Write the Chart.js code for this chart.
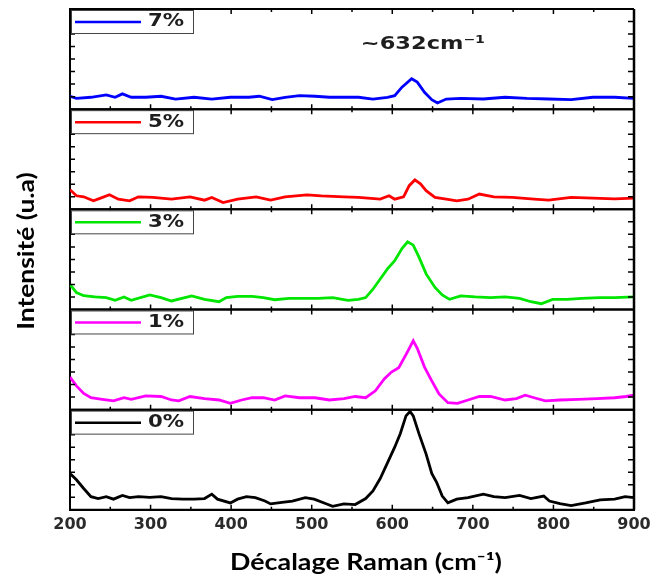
<!DOCTYPE html>
<html><head><meta charset="utf-8">
<script src="https://cdn.jsdelivr.net/npm/chart.js@4/dist/chart.umd.min.js"></script>
<style>html,body{margin:0;padding:0;background:#fff}#wrap{width:656px;height:577px}</style>
</head><body><div id="wrap"><canvas id="c" width="656" height="577"></canvas></div>
<script>
// ---- data (Raman shift in cm-1, intensity in arbitrary panel units 0..8) ----
const seriesLabels = ['0%', '1%', '3%', '5%', '7%'];
const seriesColors = ['#000000', '#ff00ff', '#00e600', '#ff0000', '#0000ff'];
const xTickValues = [200, 300, 400, 500, 600, 700, 800, 900];
const xMinorValues = [250, 350, 450, 550, 650, 750, 850];
const yTickValues = [1, 2, 3, 4, 5, 6, 7];
const annotationText = '~632cm⁻¹';
const xTitle = 'Décalage Raman (cm⁻¹)';
const yTitle = 'Intensité (u.a)';

const x0 = [200,208,217,226,235,245,254,265,274,285,299,313,326,340,354,367,376,383,399,408,419,430,442,449,463,476,492,503,517,526,540,554,567,576,585,594,603,610,617,622,626,633,642,649,655,662,669,680,694,713,726,740,758,772,788,795,808,822,840,858,876,889,900];
const y0 = [2.9,2.4,1.7,1.05,0.9,1.05,0.85,1.15,0.97,1.05,1.0,1.05,0.9,0.85,0.85,0.9,1.25,0.85,0.55,0.85,1.05,0.97,0.7,0.47,0.6,0.7,0.97,0.85,0.5,0.28,0.47,0.42,0.9,1.5,2.5,3.75,5.0,6.1,7.5,7.85,7.5,6.1,4.45,2.9,2.2,1.1,0.55,0.85,0.97,1.25,1.05,0.97,1.15,0.9,1.1,0.7,0.5,0.33,0.55,0.8,0.85,1.05,0.97];

const x1 = [200,208,217,226,240,254,267,276,294,313,326,335,349,367,385,399,413,426,440,454,467,485,504,522,540,554,567,579,590,599,608,617,626,631,640,649,658,669,681,694,708,722,740,754,765,776,790,808,831,854,876,890,900];
const y1 = [2.6,1.9,1.3,0.95,0.82,0.7,0.95,0.82,1.1,1.05,0.77,0.7,1.05,0.88,0.77,0.5,0.77,0.95,0.95,0.77,1.1,0.95,0.95,0.77,0.88,1.05,0.95,1.5,2.45,3.0,3.35,4.4,5.5,4.9,3.4,2.3,1.25,0.55,0.5,0.77,1.05,1.05,0.77,0.88,1.15,0.95,0.7,0.77,0.82,0.88,0.95,1.05,1.15];

const x3 = [200,208,217,231,245,256,267,276,299,313,326,351,367,385,394,408,426,440,454,472,490,508,526,545,558,567,576,585,594,603,612,619,626,633,642,653,662,671,685,703,722,740,758,772,785,799,817,835,858,876,900];
const y3 = [2.0,1.35,1.1,1.0,0.95,0.73,1.0,0.73,1.16,0.95,0.68,1.08,0.81,0.62,0.95,1.05,1.05,0.95,0.78,0.89,0.89,0.89,0.95,0.73,0.81,0.95,1.62,2.43,3.24,3.9,4.86,5.4,5.14,4.2,2.84,1.76,1.16,0.81,1.08,1.0,0.95,1.0,0.89,0.62,0.46,0.81,0.81,0.89,0.95,0.95,1.0];

const x5 = [200,208,217,229,238,249,260,274,285,303,326,349,367,376,390,408,431,449,467,494,512,540,558,585,596,603,614,621,628,635,642,653,667,680,694,708,726,749,776,794,822,849,876,900];
const y5 = [1.57,1.08,1.0,0.68,0.89,1.16,0.81,0.68,1.0,0.95,0.81,1.0,0.73,0.95,0.54,0.81,1.0,0.73,1.0,1.16,1.08,1.0,0.95,0.81,1.08,0.81,1.0,1.89,2.35,2.03,1.49,0.95,0.81,0.68,0.81,1.22,1.0,0.95,0.81,0.73,0.95,0.89,0.84,0.89];

const x7 = [200,208,226,245,256,265,276,294,313,331,354,376,399,422,435,451,467,485,504,522,540,558,576,594,603,612,624,631,640,649,656,667,685,713,740,767,794,822,849,876,900];
const y7 = [1.03,0.86,0.95,1.14,0.95,1.22,0.95,0.95,1.03,0.81,0.95,0.81,0.95,0.95,1.03,0.76,0.95,1.08,1.03,0.95,0.95,0.95,0.81,0.95,1.08,1.76,2.43,2.16,1.35,0.76,0.49,0.81,0.86,0.81,0.95,0.86,0.81,0.76,0.95,0.95,0.86];

const seriesX = [x0, x1, x3, x5, x7];
const seriesY = [y0, y1, y3, y5, y7];

// ---- chart ----
const datasets = seriesX.map((xs, i) => ({
  label: seriesLabels[i],
  data: xs.map((x, j) => ({x: x, y: seriesY[i][j]})),
  yAxisID: 'y' + i,
  borderColor: seriesColors[i],
  borderWidth: 2.8,
  pointRadius: 0,
  tension: 0,
  fill: false
}));

const scales = {
  x: {
    type: 'linear', min: 200, max: 900,
    afterBuildTicks: (s) => { s.ticks = xTickValues.map(v => ({value: v})); },
    ticks: {font: {family: 'DejaVu Sans', weight: 'bold', size: 16}, color: '#2a2a2a', padding: 5},
    grid: {display: false, drawTicks: false},
    border: {display: true, color: '#000', width: 2}
  }
};
for (let i = 0; i < 5; i++) {
  scales['y' + i] = {
    type: 'linear', position: 'left', stack: 'panels', stackWeight: 1,
    min: 0, max: 8,
    ticks: {display: false},
    grid: {display: false, drawTicks: false},
    border: {display: true, color: '#000', width: 2}
  };
}

const panelPlugin = {
  id: 'panelPlugin',
  afterDatasetsDraw(chart) {
    const ctx = chart.ctx;
    const xs = chart.scales.x;
    const L = chart.chartArea.left, R = chart.chartArea.right;
    ctx.save();
    ctx.strokeStyle = '#000';
    let topMost = Infinity;
    for (let i = 0; i < 5; i++) {
      const ys = chart.scales['y' + i];
      topMost = Math.min(topMost, ys.top);
      ctx.lineWidth = 1.5;
      ctx.beginPath();
      yTickValues.forEach(v => {
        const py = ys.getPixelForValue(v);
        ctx.moveTo(L, py); ctx.lineTo(L + 5, py);
        ctx.moveTo(R - 6, py); ctx.lineTo(R, py);
      });
      xTickValues.forEach(v => {
        const px = xs.getPixelForValue(v);
        ctx.moveTo(px, ys.top); ctx.lineTo(px, ys.top + 5);
        ctx.moveTo(px, ys.bottom); ctx.lineTo(px, ys.bottom - 5);
      });
      xMinorValues.forEach(v => {
        const px = xs.getPixelForValue(v);
        ctx.moveTo(px, ys.top); ctx.lineTo(px, ys.top + 3);
        ctx.moveTo(px, ys.bottom); ctx.lineTo(px, ys.bottom - 3);
      });
      ctx.stroke();
      ctx.lineWidth = 2;
      ctx.beginPath(); ctx.moveTo(L, ys.bottom); ctx.lineTo(R, ys.bottom); ctx.stroke();
      ctx.beginPath(); ctx.moveTo(L, ys.top); ctx.lineTo(R, ys.top); ctx.stroke();

      // legend box
      const bx = L + 1, by = ys.top + 1, bw = 122, bh = 23;
      ctx.fillStyle = '#fff';
      ctx.fillRect(bx, by, bw, bh);
      ctx.lineWidth = 1;
      ctx.strokeStyle = '#444';
      ctx.strokeRect(bx + 0.5, by + 0.5, bw, bh);
      ctx.strokeStyle = seriesColors[i];
      ctx.lineWidth = 2.5;
      ctx.beginPath(); ctx.moveTo(bx + 4, by + 12); ctx.lineTo(bx + 70, by + 12); ctx.stroke();
      ctx.save();
      ctx.fillStyle = '#1e1e1e';
      ctx.font = 'bold 17px "DejaVu Sans"';
      ctx.textBaseline = 'middle';
      ctx.translate(bx + 77, by + 12);
      ctx.scale(1.25, 1);
      ctx.fillText(seriesLabels[i], 0, 0);
      ctx.restore();
      ctx.strokeStyle = '#000';
    }
    ctx.lineWidth = 2.5;
    ctx.beginPath(); ctx.moveTo(R, topMost); ctx.lineTo(R, chart.chartArea.bottom); ctx.stroke();

    // annotation in top panel
    const yTop = chart.scales['y4'];
    ctx.save();
    ctx.fillStyle = '#1e1e1e';
    ctx.font = 'bold 18px "DejaVu Sans"';
    ctx.textBaseline = 'middle';
    ctx.translate(xs.getPixelForValue(561), yTop.getPixelForValue(5.2));
    ctx.scale(1.25, 1);
    ctx.fillText(annotationText, 0, 0);
    ctx.restore();

    // axis titles
    ctx.fillStyle = '#000';
    ctx.font = 'bold 22px Lato';
    ctx.textAlign = 'center';
    ctx.textBaseline = 'middle';
    ctx.save();
    ctx.translate(366, 563);
    ctx.scale(1.22, 1);
    ctx.fillText(xTitle, 0, 0);
    ctx.restore();
    ctx.save();
    ctx.translate(27, 251);
    ctx.rotate(-Math.PI / 2);
    ctx.scale(1.2, 1);
    ctx.fillText(yTitle, 0, 0);
    ctx.restore();
    ctx.restore();
  }
};

new Chart(document.getElementById('c'), {
  type: 'line',
  data: {datasets: datasets},
  options: {
    responsive: false, animation: false, devicePixelRatio: 1,
    layout: {padding: {left: 70, right: 22, top: 9, bottom: 38}},
    plugins: {legend: {display: false}, tooltip: {enabled: false}},
    scales: scales
  },
  plugins: [panelPlugin]
});
</script></body></html>
